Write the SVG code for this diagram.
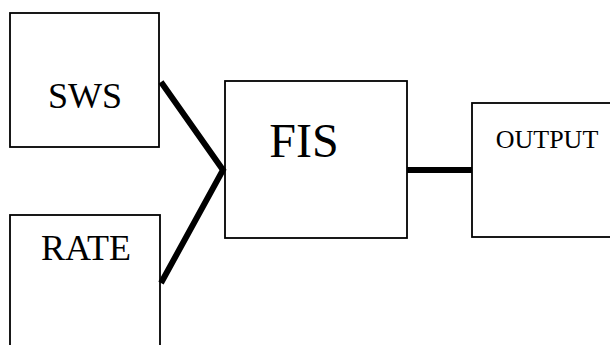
<svg xmlns="http://www.w3.org/2000/svg" width="610" height="345" viewBox="0 0 610 345">
<style>
.box{fill:#fff;stroke:#000;stroke-width:1.8}
.lbl{font-family:"Liberation Serif","Times New Roman",serif;fill:#000}
.conn{stroke:#000;stroke-width:6;fill:none}
</style>
<rect width="610" height="345" fill="#fff"/>
<g id="sws"><rect class="box" x="10" y="13" width="149" height="134"/><text class="lbl" x="85" y="108" font-size="36" text-anchor="middle">SWS</text></g>
<g id="rate"><rect class="box" x="10" y="215" width="150" height="140"/><text class="lbl" x="86" y="260" font-size="36" text-anchor="middle">RATE</text></g>
<g id="fis"><rect class="box" x="225" y="81" width="182" height="157"/><text class="lbl" x="304" y="157" font-size="48" text-anchor="middle">FIS</text></g>
<g id="output"><rect class="box" x="472" y="103" width="150" height="134"/><text class="lbl" x="547" y="148" font-size="26" text-anchor="middle">OUTPUT</text></g>
<g id="connectors">
<polyline class="conn" points="161,82 223,170 161,283"/>
<line class="conn" x1="407" y1="170" x2="472" y2="170"/>
</g>
</svg>
